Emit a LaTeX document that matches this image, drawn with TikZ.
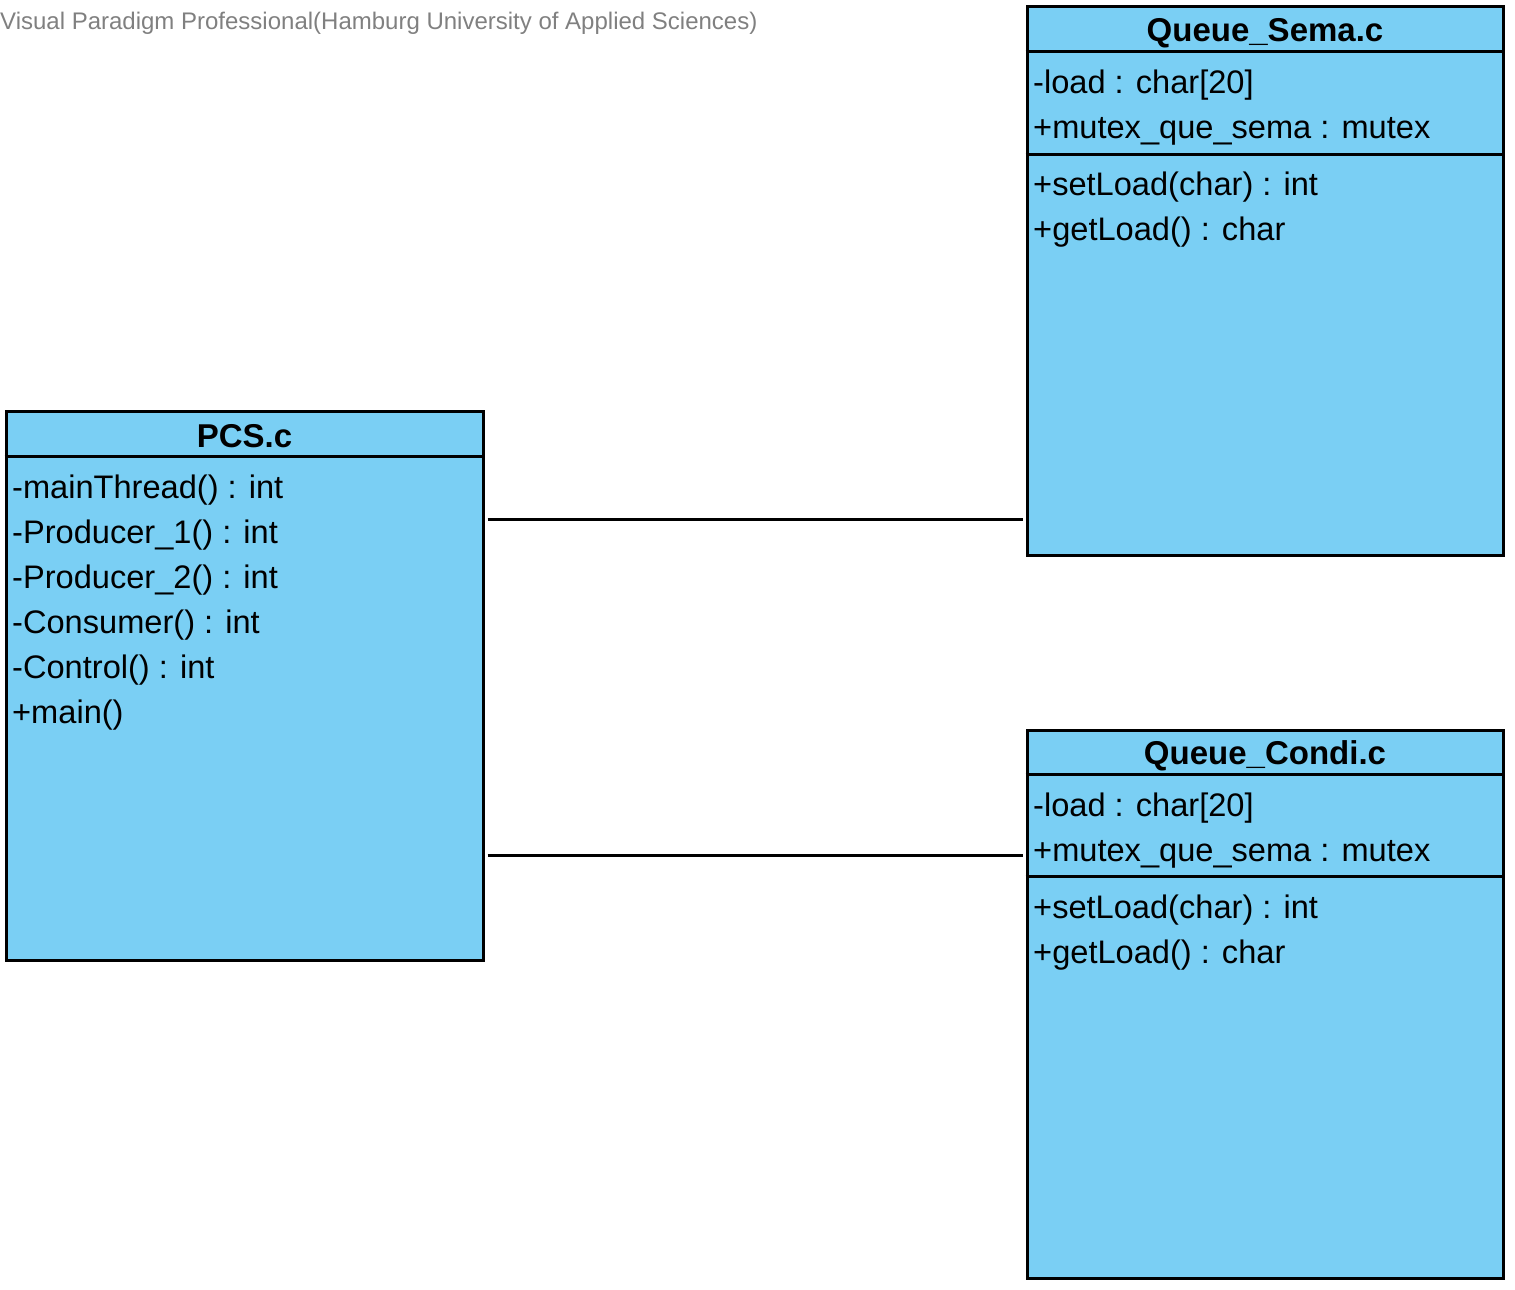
\documentclass[tikz,border=0pt]{standalone}
\usepackage{fontspec}
\setmainfont{Liberation Sans}
\definecolor{classfill}{RGB}{122,207,244}
\definecolor{markgray}{RGB}{128,128,128}
\begin{document}
\begin{tikzpicture}[x=1pt,y=-1pt,
  classbox/.style={draw=black,line width=3pt,fill=classfill,inner sep=0pt,minimum width=476pt},
  sepline/.style={draw=black,line width=3pt},
  classname/.style={anchor=base,inner sep=0pt,font=\fontsize{33}{39}\selectfont\bfseries},
  member/.style={anchor=base west,inner sep=0pt,font=\fontsize{32.6}{38}\selectfont},
  assoc/.style={draw=black,line width=3pt,shorten <=3pt,shorten >=3pt},
  watermark/.style={anchor=base west,inner sep=0pt,text=markgray,font=\fontsize{24}{28}\selectfont}]
\useasboundingbox (0,0) rectangle (1515,1290);

% header note
\node[watermark] (vp) at (0,30) {Visual Paradigm Professional(Hamburg University of Applied Sciences)};

% PCS.c
\node[classbox,minimum width=477pt,minimum height=549pt] (pcs) at (244.5,685.5) {};
\draw[sepline] (pcs.west |- 0,456) -- (pcs.east |- 0,456);
\node[classname] (pcsT) at (244.5,447) {PCS.c};
\node[member] (pcs1) at (12,498) {-mainThread() : int};
\node[member] (pcs2) at (12,543) {-Producer\_1() : int};
\node[member] (pcs3) at (12,588) {-Producer\_2() : int};
\node[member] (pcs4) at (12,633) {-Consumer() : int};
\node[member] (pcs5) at (12,678) {-Control() : int};
\node[member] (pcs6) at (12,723) {+main()};

% Queue_Sema.c
\node[classbox,minimum height=548pt] (sema) at (1265,281) {};
\draw[sepline] (sema.west |- 0,52) -- (sema.east |- 0,52);
\draw[sepline] (sema.west |- 0,154) -- (sema.east |- 0,154);
\node[classname] (semaT) at (1265,42) {Queue\_Sema.c};
\node[member] (sema1) at (1033,93) {-load : char[20]};
\node[member] (sema2) at (1033,138) {+mutex\_que\_sema : mutex};
\node[member] (sema3) at (1033,195) {+setLoad(char) : int};
\node[member] (sema4) at (1033,240) {+getLoad() : char};

% Queue_Condi.c
\node[classbox,minimum height=548pt] (condi) at (1265,1004) {};
\draw[sepline] (condi.west |- 0,774) -- (condi.east |- 0,774);
\draw[sepline] (condi.west |- 0,876) -- (condi.east |- 0,876);
\node[classname] (condiT) at (1265,764) {Queue\_Condi.c};
\node[member] (condi1) at (1033,816) {-load : char[20]};
\node[member] (condi2) at (1033,861) {+mutex\_que\_sema : mutex};
\node[member] (condi3) at (1033,918) {+setLoad(char) : int};
\node[member] (condi4) at (1033,963) {+getLoad() : char};

% associations
\draw[assoc] (pcs.east |- 0,519) -- (sema.west |- 0,519);
\draw[assoc] (pcs.east |- 0,855) -- (condi.west |- 0,855);
\end{tikzpicture}
\end{document}
